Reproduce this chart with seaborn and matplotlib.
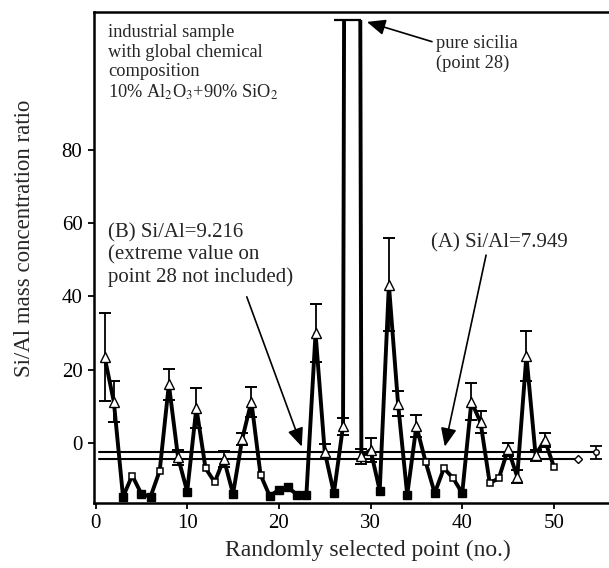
import numpy as np
import pandas as pd
import matplotlib
matplotlib.use('Agg')
import matplotlib.pyplot as plt
from matplotlib.patches import Rectangle
import seaborn as sns

# measured points (point no. 28 is pure silica -> off scale)
point_no = list(range(1, 51))
ratio = [23.4, 11.2, -14.7, -8.9, -13.9, -14.7, -7.6, 16.0, -3.9, -13.3,
         9.6, -6.9, -10.7, -4.4, -13.9, 1.1, 11.3, -8.7, -14.5, -12.8,
         -12.1, -14.2, -14.2, 30.0, -2.4, -13.7, 4.6, 1000.0, -3.7, -1.9,
         -13.0, 43.2, 10.7, -14.2, 4.6, -5.1, -13.7, -6.9, -9.6, -13.7,
         11.3, 5.6, -11.0, -9.6, -1.7, -9.2, 23.8, -3.3, 0.8, -6.5]
ratio_err = [12.0, 5.6, 0, 0, 0, 0, 0, 4.2, 2.0, 0,
             5.4, 0, 0, 2.2, 0, 1.7, 4.1, 0, 0, 0,
             0, 0, 0, 7.9, 2.0, 0, 2.3, 0, 2.0, 3.3,
             0, 12.7, 3.4, 0, 2.9, 0, 0, 0, 0, 0,
             5.0, 3.0, 0, 0, 1.8, 1.8, 6.9, 1.5, 2.0, 0]

# mean levels (A) and (B)
mean_names = ['A', 'B']
mean_level = [-2.5, -4.4]
mean_start = [0.4, 0.4]
mean_end = [54.6, 52.6]
mean_err = [1.8, 0.0]

plateau = 115.5  # where the off-scale point is cut in the figure

df = pd.DataFrame({'point': point_no, 'ratio': ratio, 'err': ratio_err})

sns.set_style("ticks")
plt.rcParams['font.family'] = ['Liberation Serif', 'DejaVu Serif']
plt.rcParams['mathtext.fontset'] = 'stix'

fig = plt.figure(figsize=(6.09, 5.68), dpi=100)
ax = fig.add_axes([93.5 / 609, 1 - 503 / 568, (608 - 93.5) / 609, (503 - 12) / 568])

xlim = (-0.22, 55.9)
ylim = (-16.4, 117.7)
ax.set_xlim(*xlim)
ax.set_ylim(*ylim)

# main series
sns.lineplot(data=df, x='point', y='ratio', color='black', lw=2.8,
             estimator=None, sort=False, ax=ax, zorder=2)
main_line = ax.lines[-1]
clip = Rectangle((xlim[0], ylim[0]), xlim[1] - xlim[0], plateau - ylim[0],
                 transform=ax.transData)
main_line.set_clip_path(clip)
off = df[df.ratio > plateau]
for p in off.point:
    ax.hlines(plateau, p - 2, p + 1, color='black', lw=1.6, zorder=2)

# error bars
with_err = df[df.err > 0]
ax.errorbar(with_err.point, with_err.ratio, yerr=with_err.err, fmt='none',
            ecolor='black', elinewidth=1.3, capsize=4, capthick=1.4, zorder=3)

# markers
low = df[(df.err == 0) & (df.ratio <= -12)]
mid = df[(df.err == 0) & (df.ratio > -12) & (df.ratio < plateau)]
ax.plot(with_err.point, with_err.ratio, ls='none', marker='^', ms=7,
        mfc='white', mec='black', mew=1.0, zorder=4)
ax.plot(mid.point, mid.ratio, ls='none', marker='s', ms=5,
        mfc='white', mec='black', mew=1.1, zorder=4)
ax.plot(low.point, low.ratio, ls='none', marker='s', ms=5.5,
        mfc='black', mec='black', zorder=4)

# mean lines
for lvl, x0, x1, e in zip(mean_level, mean_start, mean_end, mean_err):
    ax.plot([x0, x1], [lvl, lvl], color='black', lw=1.5, zorder=2)
    if e > 0:
        ax.errorbar([x1], [lvl], yerr=[e], fmt='o', ms=4, mfc='white', mec='black',
                    ecolor='black', elinewidth=1.2, capsize=4, capthick=1.3, zorder=4)
    else:
        ax.plot([x1], [lvl], marker='D', ms=4, mfc='white', mec='black', mew=1.0, zorder=4)

# annotations
ax.text(1.36, 114.3, 'industrial sample\nwith global chemical\ncomposition\n'
        '10% Al$_2$O$_3$+90% SiO$_2$', fontsize=13.2, va='top', ha='left',
        linespacing=1.18)
ax.text(1.36, 51.3, '(B) Si/Al=9.216\n(extreme value on\npoint 28 not included)',
        fontsize=15, va='center', ha='left', linespacing=1.2)
ax.text(36.6, 54.6, '(A) Si/Al=7.949', fontsize=15, va='center', ha='left')
ax.text(37.1, 106.3, 'pure sicilia\n(point 28)', fontsize=13.2, va='center',
        ha='left', linespacing=1.2)

arrow = dict(arrowstyle='-|>,head_length=0.7,head_width=0.3', color='black',
             lw=1.2, mutation_scale=16, shrinkA=0, shrinkB=0)
ax.annotate('', xy=(29.6, 115.0), xytext=(36.7, 109.6), arrowprops=arrow)
ax.annotate('', xy=(22.5, -1.0), xytext=(16.5, 39.9), arrowprops=arrow)
ax.annotate('', xy=(38.1, -1.0), xytext=(42.6, 51.3), arrowprops=arrow)

# axes styling
ax.set_xticks([0, 10, 20, 30, 40, 50])
ax.set_yticks([0, 20, 40, 60, 80])
ax.tick_params(direction='out', length=4, width=1.3, labelsize=15, pad=4,
               colors='black')
for side in ['left', 'bottom', 'top']:
    ax.spines[side].set_linewidth(1.8)
    ax.spines[side].set_color('black')
ax.spines['right'].set_visible(False)

ax.set_xlabel('Randomly selected point (no.)', fontsize=17)
ax.set_ylabel('Si/Al mass concentration ratio', fontsize=16.5)
ax.xaxis.set_label_coords(0.533, -0.074)
ax.yaxis.set_label_coords(-0.114, 0.54)

fig.savefig('out.png', dpi=100)
